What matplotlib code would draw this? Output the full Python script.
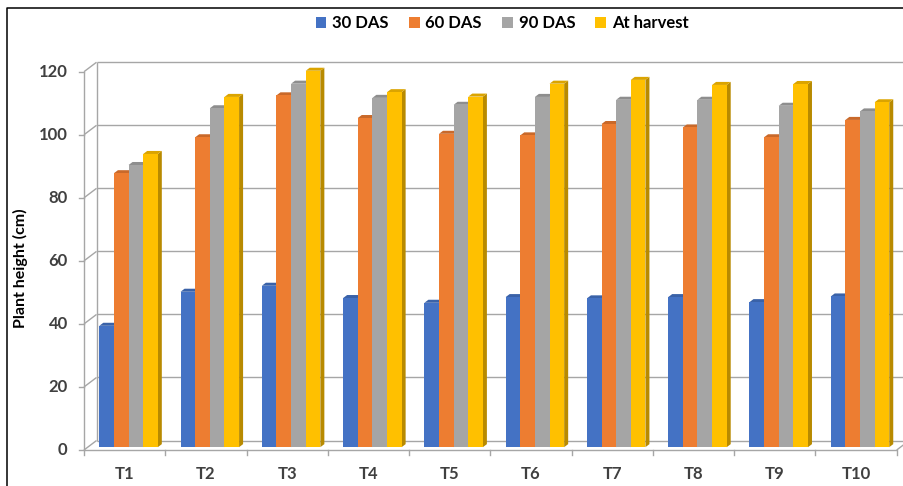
import matplotlib
matplotlib.use("Agg")
import matplotlib.pyplot as plt
from matplotlib.lines import Line2D
from matplotlib.patches import Patch

# data
categories = ["T1", "T2", "T3", "T4", "T5", "T6", "T7", "T8", "T9", "T10"]
series_names = ["30 DAS", "60 DAS", "90 DAS", "At harvest"]
das_30 = [38.5, 49.3, 51.2, 47.3, 45.8, 47.6, 47.2, 47.6, 46.0, 47.8]
das_60 = [86.9, 98.3, 111.6, 104.4, 99.4, 98.9, 102.5, 101.4, 98.3, 103.8]
das_90 = [89.5, 107.5, 115.3, 110.8, 108.6, 111.1, 110.2, 110.2, 108.3, 106.5]
at_harvest = [93.0, 111.1, 119.4, 112.6, 111.2, 115.3, 116.5, 114.9, 115.2, 109.4]
y_ticks = [0, 20, 40, 60, 80, 100, 120]

# front / side / top face colours per series
face_colors = ["#4472C4", "#ED7D31", "#A5A5A5", "#FFC000"]
side_colors = ["#2F528F", "#AE5A21", "#7A7A7A", "#B88A00"]
top_colors = ["#3A62A8", "#C9692A", "#8E8E8E", "#DBA400"]

# oblique projection: depth z in [0, 1] shifts right/up
KX = 0.154
KY = 3.0
GRID = "#A6A6A6"
FONT = "Lato"


def proj(x, v, z):
    return x + z * KX, v + z * KY


def fill_poly(ax, pts, color, zorder):
    xs, ys = zip(*[proj(*p) for p in pts])
    ax.fill(xs, ys, color=color, lw=0, zorder=zorder, clip_on=False)


def line3d(ax, p0, p1, zorder=1, color=GRID, lw=1.0):
    a = proj(*p0)
    b = proj(*p1)
    ax.plot([a[0], b[0]], [a[1], b[1]], color=color, lw=lw,
            zorder=zorder, clip_on=False, solid_capstyle="butt")


fig = plt.figure(figsize=(9.04, 4.86), dpi=100)
ax = fig.add_axes([84 / 904, 36 / 486, 812.7 / 904, 378.3 / 486])
ax.set_xlim(0, len(categories))
ax.set_ylim(0, 120)
ax.axis("off")

# walls and floor
for v in y_ticks:
    line3d(ax, (0, v, 1), (len(categories), v, 1))
    line3d(ax, (0, v, 0), (0, v, 1))
    ax.plot([-0.065, 0], [v, v], color=GRID, lw=1.0, clip_on=False)
    ax.text(-0.2, v, str(v), ha="right", va="center", fontsize=12,
            fontweight="bold", color="#404040", family=FONT)
line3d(ax, (0, 0, 1), (0, 120, 1))
line3d(ax, (0, 0, 0), (0, 120, 0))
line3d(ax, (0, 0, 0), (len(categories), 0, 0))
line3d(ax, (len(categories), 0, 0), (len(categories), 0, 1))
for i in range(len(categories) + 1):
    ax.plot([i, i], [0, -1.6], color=GRID, lw=1.0, clip_on=False)

# bars
series = [das_30, das_60, das_90, at_harvest]
bar_w = 0.18
group_left = 0.142
z0, z1 = 0.3, 0.62
for i, cat in enumerate(categories):
    for s, values in enumerate(series):
        v = values[i]
        x0 = i + group_left + s * bar_w
        x1 = x0 + bar_w
        zo = 10 + i * 10 + s * 2
        fill_poly(ax, [(x1, 0, z0), (x1, 0, z1), (x1, v, z1), (x1, v, z0)],
                  side_colors[s], zo)
        fill_poly(ax, [(x0, v, z0), (x1, v, z0), (x1, v, z1), (x0, v, z1)],
                  top_colors[s], zo)
        fill_poly(ax, [(x0, 0, z0), (x1, 0, z0), (x1, v, z0), (x0, v, z0)],
                  face_colors[s], zo + 1)
    ax.text(i + 0.5, -7.6, cat, ha="center", va="center", fontsize=12,
            fontweight="bold", color="#404040", family=FONT)

fig.text(20 / 904, 1 - 268 / 486, "Plant height (cm)", rotation=90,
         ha="center", va="center", fontsize=11.5, fontweight="bold",
         color="black", family=FONT)

handles = [Patch(facecolor=c, edgecolor="none") for c in face_colors]
fig.legend(handles, series_names, loc="center", ncol=4,
           bbox_to_anchor=(502 / 904, 1 - 23 / 486), frameon=False,
           handlelength=0.65, handleheight=0.65, handletextpad=0.35,
           columnspacing=1.2, prop={"family": FONT, "weight": "bold", "size": 12})

# chart border (left and top edges visible)
fig.add_artist(Line2D([7 / 904, 7 / 904, 1], [0, 1 - 8.5 / 486, 1 - 8.5 / 486],
                      color="black", lw=1.1, transform=fig.transFigure))

fig.savefig("out.png", dpi=100)
